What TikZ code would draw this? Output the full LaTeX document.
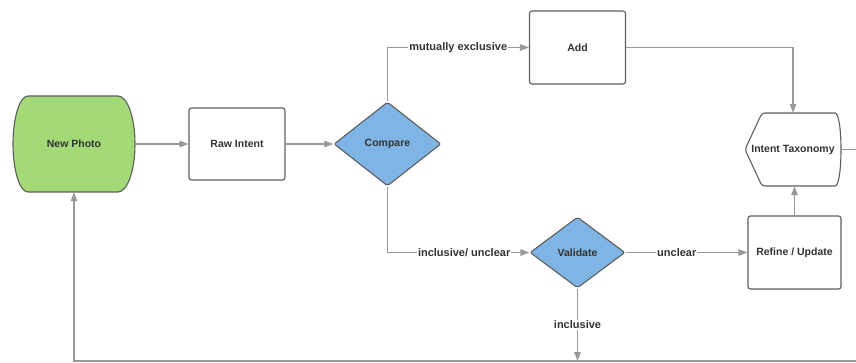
\documentclass[tikz,border=0pt]{standalone}
\usepackage{fontspec}
\setmainfont{Liberation Sans}
\usetikzlibrary{shapes.geometric,arrows.meta}

\begin{document}
\begin{tikzpicture}[x=1pt,y=-1pt,font=\bfseries\fontsize{10.5}{12}\selectfont,
   box/.style={draw=bordergray,line width=1.1pt,rounded corners=2.5pt,minimum width=96pt,minimum height=72pt,text=textgray},
   shapenode/.style={minimum width=#1,minimum height=96pt,inner sep=0pt,text=textgray},
   decision/.style={diamond,draw=bordergray,fill=decisionblue,line width=1.1pt,rounded corners=2pt,inner sep=0pt,text=textgray},
   flow/.style={draw=linegray,line width=1.2pt,-{Triangle[length=9pt,width=6.5pt]}},
   lbl/.style={fill=white,inner sep=1pt,text=textgray,font=\bfseries\fontsize{11}{13}\selectfont}]
   \definecolor{photogreen}{RGB}{163,217,119}
   \definecolor{decisionblue}{RGB}{127,181,228}
   \definecolor{bordergray}{RGB}{94,94,94}
   \definecolor{linegray}{RGB}{153,153,153}
   \definecolor{textgray}{RGB}{51,51,51}
   \useasboundingbox (0,0) rectangle (856,363);
   % start shape and taxonomy outlines
   \draw[draw=bordergray,fill=photogreen,line width=1.1pt] (28,96) -- (118,96) arc[start angle=-90,end angle=90,x radius=17,y radius=48] -- (28,192) arc[start angle=90,end angle=270,x radius=15,y radius=48] -- cycle;
   \draw[draw=bordergray,line width=1.1pt,rounded corners=3pt] (762,113) -- (832,113) .. controls (843,113) and (843,186) .. (832,186) -- (762,186) -- (745,149.5) -- cycle;
   % nodes
   \node[shapenode=122pt] (photo) at (74,144) {New Photo};
   \node[box] (raw) at (237,144) {Raw Intent};
   \node[decision,minimum width=107pt,minimum height=84pt] (compare) at (387.5,144) {Compare};
   \node[box,minimum height=73pt] (add) at (577.5,47.5) {Add};
   \node[shapenode=96pt,minimum height=73pt] (tax) at (793,149.5) {Intent Taxonomy};
   \node[box,minimum width=93pt,minimum height=73pt] (refine) at (794.5,252.5) {Refine / Update};
   \node[decision,minimum width=95pt,minimum height=71pt] (validate) at (577.5,252.5) {Validate};
   \coordinate (taxout) at (856,149.5);
   \coordinate (loopin) at (856,361);
   \coordinate (loophit) at (577.5,361);
   % connectors
   \draw[flow] (photo.east) -- (raw.west);
   \draw[flow] (raw.east) -- (compare.west);
   \draw[flow] (compare.north) |- (add.west) node[lbl,pos=0.75]{mutually exclusive};
   \draw[flow] (compare.south) |- (validate.west) node[lbl,pos=0.77]{inclusive/ unclear};
   \draw[flow] (add.east) -| (tax.north);
   \draw[flow] (validate.east) -- (refine.west) node[lbl,pos=0.42]{unclear};
   \draw[flow] (refine.north) -- (refine.north |- tax.south);
   \draw[flow] (validate.south) -- (loophit) node[lbl,midway]{inclusive};
   \draw[draw=linegray,line width=1.2pt] (tax.east) -- (taxout);
   \draw[flow] (loopin) -| (photo.south);
\end{tikzpicture}
\end{document}
